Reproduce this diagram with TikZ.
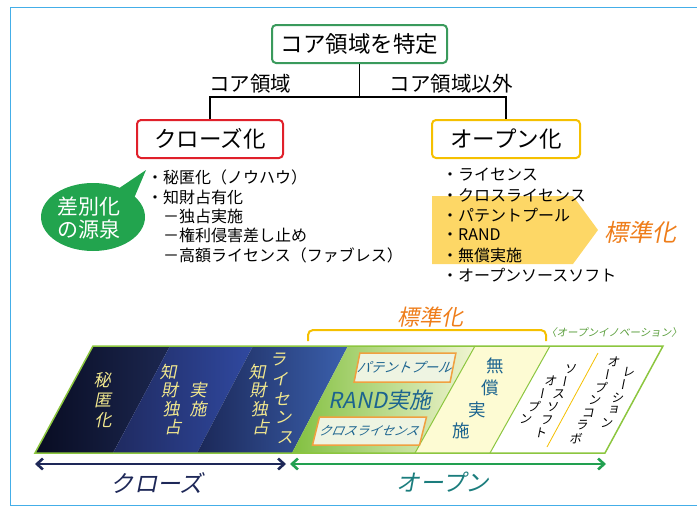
\documentclass[tikz,border=0pt]{standalone}
\usepackage{fontspec}
\setmainfont{Noto Sans CJK JP}
\newfontfamily\jpit[FakeSlant=0.2]{Noto Sans CJK JP}
\newfontfamily\vjp[RawFeature={+vert}]{Noto Sans CJK JP}
\newfontfamily\vjpit[RawFeature={+vert},FakeSlant=0.2]{Noto Sans CJK JP}
\usetikzlibrary{arrows.meta,shapes.geometric,calc}
\definecolor{framecol}{HTML}{44AEE8}
\definecolor{coregreen}{HTML}{3A9A5C}
\definecolor{closered}{HTML}{E0202A}
\definecolor{opengold}{HTML}{F5C000}
\definecolor{bubgreen}{HTML}{22A44E}
\definecolor{arrowyel}{HTML}{FDD766}
\definecolor{stdorange}{HTML}{EE7D1A}
\definecolor{bandline}{HTML}{8CC63F}
\definecolor{paleyel}{HTML}{F2E88E}
\definecolor{tealblue}{HTML}{1C648F}
\definecolor{boxorange}{HTML}{F0A040}
\definecolor{boxfill}{HTML}{EEF4E2}
\definecolor{navy}{HTML}{1E2858}
\definecolor{opengreen}{HTML}{22A050}
\definecolor{openteal}{HTML}{1B7D7D}
\definecolor{innov}{HTML}{5A9E3C}
\definecolor{dkA}{HTML}{080C22}
\definecolor{dkB}{HTML}{1C2750}
\definecolor{dkC}{HTML}{1F2A60}
\definecolor{dkD}{HTML}{3049A0}
\definecolor{dkE}{HTML}{1B2858}
\definecolor{dkF}{HTML}{3B60AD}
\definecolor{grA}{HTML}{82C040}
\definecolor{grB}{HTML}{F0F4D2}
\definecolor{ylband}{HTML}{FDFBD3}
\tikzset{
  titlebox/.style={draw, line width=2pt, rounded corners=4pt, fill=white, minimum height=38pt, inner sep=0pt, font=\fontsize{22.5}{25}\selectfont},
  conn/.style={line width=1.3pt, black},
  branchlbl/.style={font=\fontsize{20.5}{23}\selectfont, inner sep=0pt},
  listitem/.style={anchor=west, inner sep=0pt, font=\fontsize{16}{18}\selectfont},
  darkchar/.style={inner sep=0pt, text=paleyel, font=\vjpit\fontsize{17}{19}\selectfont},
  whitechar/.style={inner sep=0pt, text=black, font=\vjpit\fontsize{12.5}{14}\selectfont},
  freechar/.style={inner sep=0pt, text=tealblue, font=\vjp\fontsize{17.5}{19}\selectfont},
  tagbox/.style={draw=boxorange, line width=1.5pt, fill=boxfill, inner sep=0pt, text=tealblue, transform shape, font=\jpit\fontsize{13.5}{15}\selectfont},
  bigarrow/.style={line width=2.6pt, {Straight Barb[length=6pt,width=11pt]}-{Straight Barb[length=6pt,width=11pt]}}
}
\begin{document}
\begin{tikzpicture}[x=1pt,y=-1pt]
\useasboundingbox (0,0) rectangle (697,507);
\draw[framecol, line width=1pt] (10.5,7.5) rectangle (720,505.5);

% --- top tree
\node[titlebox, draw=coregreen, minimum width=175pt] (core) at (359.5,44) {コア領域を特定};
\node[titlebox, draw=closered, minimum width=146pt] (close) at (210,139) {クローズ化};
\node[titlebox, draw=opengold, minimum width=148pt] (open) at (506,139) {オープン化};
\coordinate (j) at (359.5,97);
\draw[conn] (core.south) -- (j);
\draw[conn] (close.north) |- (j) -| (open.north);
\node[branchlbl] (lblcore) at (250,84) {コア領域};
\node[branchlbl] (lblother) at (451,84) {コア領域以外};

% --- speech bubble
\fill[bubgreen] (112,193) -- (146,170) -- (132,203) -- cycle;
\node[ellipse, fill=bubgreen, minimum width=104pt, minimum height=68pt, inner sep=0pt] (src) at (93,217) {};
\node[text=white, align=center, inner sep=0pt, font=\fontsize{21}{23}\selectfont] (srctxt) at (89,218) {差別化\\の源泉};

% --- closed list
\node[listitem] (c1) at (147,177) {・秘匿化（ノウハウ）};
\node[listitem] (c2) at (147,197) {・知財占有化};
\node[listitem] (c3) at (147,216) {　－独占実施};
\node[listitem] (c4) at (147,235.5) {　－権利侵害差し止め};
\node[listitem] (c5) at (147,255) {　－高額ライセンス（ファブレス）};

% --- open list with arrow
\fill[arrowyel] (432,196) -- (573,196) -- (598,230) -- (573,264) -- (432,264) -- cycle;
\node[listitem] (o1) at (442,175) {・ライセンス};
\node[listitem] (o2) at (442,195) {・クロスライセンス};
\node[listitem] (o3) at (442,215) {・パテントプール};
\node[listitem] (o4) at (442,235) {・RAND};
\node[listitem] (o5) at (442,255) {・無償実施};
\node[listitem] (o6) at (442,275) {・オープンソースソフト};
\node[text=stdorange, inner sep=0pt, font=\jpit\fontsize{24}{27}\selectfont] (std1) at (640,232) {標準化};

% --- bracket and labels above band
\draw[opengold, line width=2pt, rounded corners=5pt] (308,341) -- (308,330) -- (546,330) -- (546,341);
\node[text=stdorange, inner sep=0pt, font=\jpit\fontsize{22}{25}\selectfont] (std2) at (430,317) {標準化};
\node[text=innov, inner sep=0pt, font=\jpit\fontsize{10.5}{12}\selectfont] (innovlbl) at (614,333) {〈オープンイノベーション〉};

% --- band
\shade[left color=dkA, right color=dkB] (35,453) -- (93,346) -- (170,346) -- (113,453) -- cycle;
\shade[left color=dkC, right color=dkD] (113,453) -- (170,346) -- (253,346) -- (197,453) -- cycle;
\shade[left color=dkE, right color=dkF] (197,453) -- (253,346) -- (348,346) -- (292,453) -- cycle;
\shade[left color=grA, right color=grB] (292,453) -- (348,346) -- (475,346) -- (415,453) -- cycle;
\fill[ylband] (415,453) -- (475,346) -- (550,346) -- (490,453) -- cycle;
\fill[white] (490,453) -- (550,346) -- (663,346) -- (605,453) -- cycle;
\draw[bandline, line width=1.5pt] (35,453) -- (93,346) -- (663,346) -- (605,453) -- cycle;
\draw[bandline, line width=1pt] (415,453) -- (475,346);
\draw[bandline, line width=1pt] (490,453) -- (550,346);
\draw[opengold, line width=0.8pt] (598,353) -- (547,447);

% dark region vertical texts
\foreach \ch [count=\i from 0] in {秘,匿,化}
  \node[darkchar] (hk\i) at ({102+\i*0.5},{380+\i*20}) {\ch};
\foreach \ch [count=\i from 0] in {知,財,独,占}
  \node[darkchar] (za\i) at ({168+\i*1.6},{372+\i*18.5}) {\ch};
\foreach \ch [count=\i from 0] in {実,施}
  \node[darkchar] (js\i) at ({198},{390+\i*19}) {\ch};
\foreach \ch [count=\i from 0] in {知,財,独,占}
  \node[darkchar] (zb\i) at ({257+\i*1.2},{372+\i*18.5}) {\ch};
\foreach \ch [count=\i from 0] in {ラ,イ,セ,ン,ス}
  \node[darkchar] (li\i) at ({278+\i*1.7},{360+\i*19.3}) {\ch};

% green region
\begin{scope}[shift={(405,367.5)}, xslant=0.2]
  \node[tagbox, minimum width=96pt, minimum height=29pt] (pool) at (0,0) {パテントプール};
\end{scope}
\begin{scope}[shift={(369.5,431)}, xslant=0.25]
  \node[tagbox, minimum width=107pt, minimum height=28pt, font=\jpit\fontsize{12.5}{14}\selectfont] (cross) at (0,0) {クロスライセンス};
\end{scope}
\node[text=tealblue, inner sep=0pt, font=\jpit\fontsize{22}{24}\selectfont] (rand) at (380,400) {RAND実施};

% free licence
\node[freechar] (f0) at (495,366) {無};
\node[freechar] (f1) at (490,388) {償};
\node[freechar] (f2) at (477,410) {実};
\node[freechar] (f3) at (461,431) {施};

% white region columns
\foreach \ch [count=\i from 0] in {オ,ー,プ,ン}
  \node[whitechar] (op\i) at ({550-\i*8.3},{381+\i*12.8}) {\ch};
\foreach \ch [count=\i from 0] in {ソ,ー,ス,ソ,フ,ト}
  \node[whitechar] (ss\i) at ({570-\i*6},{369+\i*12.7}) {\ch};
\foreach \ch [count=\i from 0] in {オ,ー,プ,ン,コ,ラ,ボ}
  \node[whitechar] (oc\i) at ({613-\i*6.3},{362+\i*12.7}) {\ch};
\foreach \ch [count=\i from 0] in {レ,ー,シ,ョ,ン}
  \node[whitechar] (rs\i) at ({628-\i*5.5},{372+\i*12.7}) {\ch};

% --- bottom arrows
\coordinate (cl) at (35,464);
\coordinate (cr) at (286,464);
\coordinate (ol) at (290,464);
\coordinate (or) at (606,464);
\draw[bigarrow, navy] (cl) -- (cr);
\draw[bigarrow, opengreen] (ol) -- (or);
\node[text=navy, inner sep=0pt, font=\jpit\fontsize{23.5}{26}\selectfont] (closelbl) at (157,483) {クローズ};
\node[text=openteal, inner sep=0pt, font=\jpit\fontsize{23.5}{26}\selectfont] (openlbl) at (443,482) {オープン};
\end{tikzpicture}
\end{document}
